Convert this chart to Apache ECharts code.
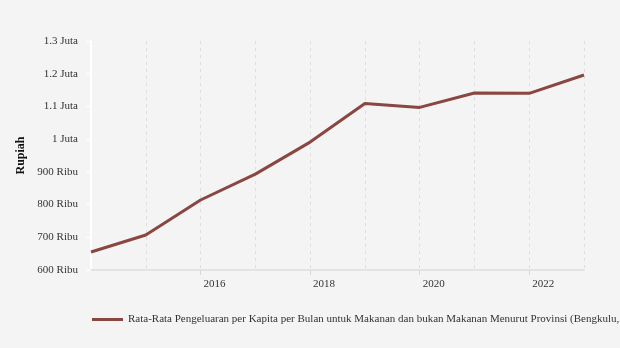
<!DOCTYPE html>
<html>
<head>
<meta charset="utf-8">
<script src="https://cdn.jsdelivr.net/npm/echarts@6/dist/echarts.min.js"></script>
<style>
html,body{margin:0;padding:0;background:#f4f4f4;}
#c{width:620px;height:348px;}
</style>
</head>
<body>
<div id="c"></div>
<script>
const years = ['2014','2015','2016','2017','2018','2019','2020','2021','2022','2023'];
const values = [655000, 707000, 814000, 893000, 991000, 1109000, 1097000, 1141000, 1140000, 1196000];
const labeledYears = ['2016','2018','2020','2022'];
const seriesName = 'Rata-Rata Pengeluaran per Kapita per Bulan untuk Makanan dan bukan Makanan Menurut Provinsi (Bengkulu, Rupiah)';

const FONT = '"Liberation Serif", "DejaVu Serif", serif';
const chart = echarts.init(document.getElementById('c'));
chart.setOption({
  backgroundColor: '#f4f4f4',
  animation: false,
  grid: {left: 91, right: 36, top: 41, bottom: 78},
  legend: {
    show: true,
    left: 87, top: 309,
    icon: 'rect',
    itemWidth: 31, itemHeight: 3,
    itemGap: 6,
    textStyle: {fontFamily: FONT, fontSize: 11, color: '#333'},
    data: [seriesName]
  },
  xAxis: {
    type: 'category',
    data: years,
    boundaryGap: false,
    axisLine: {show: true, lineStyle: {color: '#e3e3e3', width: 2}},
    axisTick: {show: true, length: 5, lineStyle: {color: '#d8d8d8'},
      interval: function(i, v){ return labeledYears.indexOf(v) >= 0; }},
    axisLabel: {
      interval: function(i, v){ return labeledYears.indexOf(v) >= 0; },
      align: 'left',
      padding: [0, 0, 0, 3],
      fontFamily: FONT, fontSize: 11, color: '#333', margin: 9
    },
    splitLine: {show: true, interval: function(i){ return i > 0; }, lineStyle: {color: '#dedede', type: [3, 4], width: 1}}
  },
  yAxis: {
    type: 'value',
    name: 'Rupiah',
    nameLocation: 'middle',
    nameGap: 61,
    nameTextStyle: {fontFamily: FONT, fontSize: 12, fontWeight: 'bold', color: '#111'},
    min: 600000, max: 1300000, interval: 100000,
    axisLine: {show: true, lineStyle: {color: '#ffffff', width: 2}},
    axisTick: {show: true, length: 5, lineStyle: {color: '#ffffff', width: 1}},
    splitLine: {show: false},
    axisLabel: {
      fontFamily: FONT, fontSize: 11, color: '#333', margin: 13,
      formatter: function(v){
        if (v >= 1000000) return (v/1000000) + ' Juta';
        return (v/1000) + ' Ribu';
      }
    }
  },
  series: [{
    name: seriesName,
    type: 'line',
    data: values,
    symbol: 'none',
    lineStyle: {color: '#8a4640', width: 3},
    itemStyle: {color: '#8a4640'}
  }]
});
</script>
</body>
</html>
